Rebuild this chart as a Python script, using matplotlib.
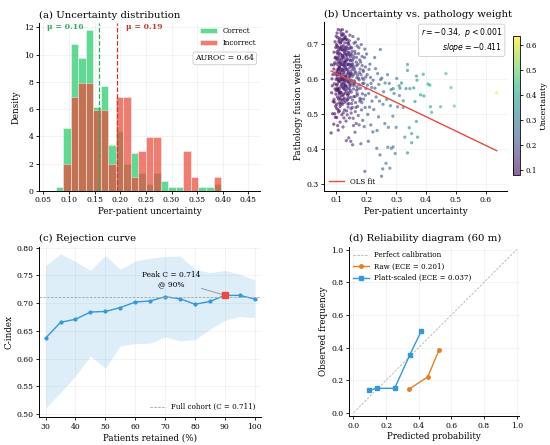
import numpy as np
import matplotlib
matplotlib.use("Agg")
import matplotlib.pyplot as plt

# ---------------- data ----------------
# (a) histogram densities per bin (22 bins from 0.0745 to 0.3966)
hist_lo, hist_hi, hist_n = 0.0745, 0.3966, 22
dens_correct = [0.27, 4.6, 10.8, 9.75, 11.8, 6.15, 7.7, 3.33, 4.4, 2.0, 2.8,
                1.3, 0.5, 1.3, 0.75, 0.27, 0.27, 0.0, 0.0, 0.27, 0.27, 0.5]
dens_incorrect = [0.0, 2.0, 6.9, 7.9, 7.9, 5.9, 5.9, 2.0, 6.9, 6.9, 1.0,
                  2.94, 3.97, 3.97, 0.0, 0.0, 0.0, 2.94, 1.0, 0.0, 0.0, 1.0]
mean_correct = 0.159
mean_incorrect = 0.194
auroc = 0.64

# (b) scatter points (uncertainty, pathology fusion weight)
scatter_pts = [
    (0.082,0.445),(0.084,0.56),(0.086,0.58),(0.088,0.612),(0.083,0.64),(0.087,0.50),(0.089,0.535),(0.085,0.60),
    (0.091,0.47),(0.094,0.50),(0.097,0.522),(0.092,0.541),(0.098,0.556),(0.095,0.571),(0.093,0.586),(0.099,0.598),
    (0.096,0.617),(0.091,0.628),(0.094,0.646),(0.098,0.662),(0.092,0.676),(0.097,0.69),(0.095,0.706),(0.099,0.722),
    (0.093,0.533),(0.096,0.49),(0.099,0.566),(0.091,0.64),(0.095,0.66),(0.098,0.612),
    (0.101,0.655),(0.107,0.592),(0.104,0.718),(0.109,0.531),(0.102,0.603),(0.106,0.681),(0.103,0.548),(0.108,0.637),
    (0.105,0.574),(0.100,0.698),(0.104,0.466),(0.109,0.612),(0.101,0.527),(0.106,0.741),(0.103,0.659),(0.108,0.563),
    (0.102,0.625),(0.107,0.505),(0.105,0.689),(0.100,0.582),(0.106,0.648),(0.101,0.489),(0.108,0.706),(0.103,0.617),
    (0.109,0.556),(0.104,0.672),(0.107,0.542),(0.102,0.731),(0.105,0.598),(0.100,0.516),(0.108,0.664),(0.103,0.585),
    (0.106,0.453),(0.101,0.642),(0.109,0.711),(0.104,0.569),(0.107,0.628),(0.102,0.677),(0.105,0.512),(0.109,0.595),
    (0.113,0.702),(0.118,0.588),(0.111,0.645),(0.116,0.532),(0.119,0.667),(0.114,0.611),(0.112,0.559),(0.117,0.724),
    (0.115,0.578),(0.110,0.634),(0.118,0.497),(0.113,0.683),(0.116,0.619),(0.111,0.546),(0.119,0.598),(0.114,0.739),
    (0.117,0.655),(0.112,0.521),(0.115,0.692),(0.110,0.571),(0.116,0.604),(0.111,0.716),(0.119,0.539),(0.113,0.648),
    (0.118,0.627),(0.112,0.476),(0.117,0.583),(0.114,0.671),(0.110,0.508),(0.115,0.641),(0.119,0.709),(0.113,0.562),
    (0.116,0.688),(0.111,0.593),(0.118,0.661),(0.114,0.527),(0.112,0.631),(0.117,0.551),(0.115,0.731),(0.110,0.615),
    (0.122,0.612),(0.127,0.674),(0.121,0.553),(0.128,0.703),(0.124,0.586),(0.126,0.641),(0.120,0.527),(0.129,0.596),
    (0.123,0.729),(0.125,0.659),(0.127,0.511),(0.122,0.684),(0.128,0.569),(0.121,0.625),(0.126,0.545),(0.124,0.714),
    (0.129,0.651),(0.120,0.603),(0.125,0.488),(0.123,0.578),(0.128,0.637),(0.122,0.695),(0.126,0.532),(0.121,0.667),
    (0.127,0.589),(0.124,0.629),(0.129,0.559),(0.120,0.741),(0.125,0.617),(0.123,0.503),(0.126,0.679),(0.121,0.574),
    (0.128,0.722),(0.124,0.541),(0.127,0.646),(0.122,0.462),(0.129,0.608),(0.125,0.691),(0.123,0.663),(0.126,0.595),
    (0.131,0.633),(0.136,0.571),(0.134,0.692),(0.138,0.528),(0.132,0.606),(0.137,0.655),(0.135,0.542),(0.130,0.718),
    (0.139,0.589),(0.133,0.667),(0.136,0.497),(0.131,0.581),(0.138,0.624),(0.134,0.735),(0.137,0.556),(0.132,0.681),
    (0.135,0.612),(0.139,0.519),(0.130,0.648),(0.133,0.564),(0.137,0.703),(0.131,0.536),(0.136,0.641),(0.134,0.598),
    (0.138,0.674),(0.132,0.479),(0.135,0.659),(0.139,0.617),(0.130,0.577),(0.136,0.712),(0.133,0.423),(0.137,0.593),
    (0.131,0.689),(0.134,0.508),(0.138,0.552),(0.132,0.628),
    (0.142,0.601),(0.147,0.663),(0.141,0.545),(0.148,0.622),(0.144,0.687),(0.146,0.568),(0.140,0.641),(0.149,0.514),
    (0.143,0.709),(0.145,0.583),(0.147,0.652),(0.142,0.529),(0.148,0.594),(0.141,0.676),(0.146,0.612),(0.144,0.488),
    (0.149,0.638),(0.140,0.557),(0.145,0.725),(0.143,0.606),(0.146,0.671),(0.141,0.431),(0.148,0.547),(0.144,0.632),
    (0.147,0.586),(0.142,0.698),(0.149,0.502),(0.140,0.617),(0.145,0.654),(0.143,0.562),(0.148,0.421),(0.146,0.579),
    (0.152,0.634),(0.157,0.571),(0.151,0.688),(0.158,0.612),(0.154,0.539),(0.156,0.657),(0.150,0.596),(0.159,0.702),
    (0.153,0.518),(0.155,0.627),(0.157,0.581),(0.152,0.669),(0.158,0.549),(0.151,0.615),(0.156,0.487),(0.154,0.643),
    (0.159,0.594),(0.150,0.562),(0.155,0.721),(0.153,0.607),(0.157,0.466),(0.152,0.678),(0.158,0.636),(0.151,0.529),
    (0.156,0.588),(0.154,0.411),
    (0.162,0.621),(0.167,0.567),(0.161,0.679),(0.168,0.603),(0.164,0.532),(0.166,0.648),(0.160,0.585),(0.169,0.694),
    (0.163,0.506),(0.165,0.617),(0.167,0.661),(0.162,0.549),(0.168,0.638),(0.161,0.591),(0.166,0.472),(0.164,0.705),
    (0.169,0.558),(0.160,0.629),(0.165,0.518),(0.163,0.672),(0.168,0.578),(0.162,0.447),
    (0.172,0.642),(0.177,0.583),(0.171,0.611),(0.178,0.536),(0.174,0.672),(0.176,0.597),(0.170,0.553),(0.179,0.628),
    (0.173,0.495),(0.175,0.689),(0.177,0.618),(0.172,0.571),(0.178,0.654),(0.171,0.521),(0.176,0.468),(0.174,0.602),
    (0.179,0.544),(0.173,0.714),
    (0.182,0.612),(0.187,0.557),(0.181,0.648),(0.188,0.587),(0.184,0.511),(0.186,0.664),(0.180,0.573),(0.189,0.625),
    (0.183,0.698),(0.185,0.532),(0.187,0.602),(0.182,0.414),(0.188,0.481),(0.181,0.541),(0.186,0.638),
    (0.192,0.587),(0.197,0.634),(0.191,0.542),(0.198,0.605),(0.194,0.661),(0.196,0.518),(0.190,0.621),(0.199,0.572),
    (0.193,0.463),(0.195,0.685),(0.197,0.553),(0.191,0.598),(0.195,0.335),
    (0.203,0.612),(0.208,0.558),(0.212,0.642),(0.216,0.587),(0.205,0.498),(0.219,0.536),(0.201,0.671),(0.214,0.604),
    (0.207,0.421),(0.218,0.575),(0.211,0.519),(0.204,0.582),(0.215,0.468),(0.209,0.627),
    (0.223,0.596),(0.228,0.661),(0.233,0.548),(0.238,0.615),(0.242,0.584),(0.247,0.684),(0.225,0.512),(0.236,0.452),
    (0.244,0.536),(0.229,0.573),(0.248,0.598),(0.231,0.629),(0.241,0.491),(0.235,0.401),(0.246,0.382),(0.222,0.448),
    (0.252,0.602),(0.258,0.563),(0.263,0.588),(0.271,0.612),(0.277,0.587),(0.283,0.569),(0.256,0.527),(0.268,0.541),
    (0.281,0.523),(0.293,0.558),(0.262,0.472),(0.274,0.461),(0.289,0.493),(0.255,0.342),(0.266,0.358),(0.272,0.404),
    (0.284,0.401),(0.297,0.386),(0.251,0.321),(0.279,0.344),
    (0.338,0.641),(0.338,0.624),(0.368,0.608),(0.370,0.596),(0.391,0.613),(0.467,0.615),(0.407,0.585),(0.413,0.582),
    (0.333,0.572),(0.346,0.572),(0.359,0.574),(0.484,0.575),(0.382,0.554),(0.393,0.551),(0.324,0.537),(0.363,0.535),
    (0.415,0.520),(0.449,0.520),(0.495,0.522),(0.419,0.504),(0.368,0.478),(0.344,0.460),(0.352,0.443),(0.329,0.433),
    (0.372,0.433),(0.352,0.417),(0.338,0.388),(0.318,0.588),(0.310,0.580),(0.324,0.518),(0.300,0.461),(0.290,0.405),
    (0.305,0.520),(0.311,0.552),(0.302,0.601),(0.313,0.573),(0.290,0.572),
    (0.104,0.611),(0.112,0.688),(0.118,0.641),(0.121,0.597),(0.127,0.715),(0.133,0.652),(0.106,0.566),(0.114,0.623),
    (0.125,0.571),(0.131,0.604),(0.138,0.686),(0.143,0.642),(0.109,0.673),(0.116,0.561),(0.122,0.648),(0.128,0.581),
    (0.135,0.627),(0.141,0.592),(0.147,0.615),(0.103,0.694),(0.111,0.602),(0.119,0.713),(0.124,0.556),(0.130,0.671),
    (0.137,0.539),(0.144,0.668),(0.150,0.641),(0.107,0.629),(0.113,0.541),(0.120,0.682),(0.126,0.622),(0.132,0.713),
    (0.139,0.642),(0.145,0.609),(0.101,0.571),(0.117,0.598),(0.123,0.638),(0.129,0.684),(0.134,0.578),(0.140,0.702),
    (0.110,0.655),(0.115,0.705),(0.105,0.622),(0.121,0.726),(0.127,0.603),(0.136,0.668),(0.142,0.573),(0.148,0.691),
    (0.153,0.652),(0.158,0.663),
    (0.637,0.560),
]
ols_slope = -0.411
ols_intercept = 0.656
corr_r = -0.34

# (c) rejection curve
retained = [30, 35, 40, 45, 50, 55, 60, 65, 70, 75, 80, 85, 90, 95, 100]
cindex = [0.637, 0.6655, 0.671, 0.684, 0.685, 0.692, 0.702, 0.704, 0.7115,
          0.708, 0.698, 0.703, 0.714, 0.714, 0.7075]
ci_upper = [0.768, 0.789, 0.775, 0.759, 0.786, 0.761, 0.776, 0.781, 0.784,
            0.785, 0.761, 0.755, 0.759, 0.752, 0.742]
ci_lower = [0.511, 0.539, 0.569, 0.605, 0.583, 0.623, 0.627, 0.628, 0.639,
            0.632, 0.634, 0.653, 0.669, 0.676, 0.674]
full_cohort_c = 0.711
peak_pct, peak_c = 90, 0.714

# (d) reliability diagram
raw_pred = [0.34, 0.455, 0.525]
raw_obs = [0.145, 0.22, 0.387]
platt_pred = [0.093, 0.143, 0.252, 0.345, 0.415]
platt_obs = [0.137, 0.150, 0.150, 0.355, 0.500]
ece_raw, ece_platt = 0.201, 0.037

# ---------------- style ----------------
plt.rcParams.update({
    "font.family": "DejaVu Serif",
    "mathtext.fontset": "dejavusans",
    "axes.linewidth": 0.7,
    "xtick.major.width": 0.6, "ytick.major.width": 0.6,
    "xtick.major.size": 2.5, "ytick.major.size": 2.5,
    "xtick.major.pad": 1.5, "ytick.major.pad": 1.5,
    "xtick.labelsize": 5.5, "ytick.labelsize": 5.5,
    "axes.labelsize": 6.3, "axes.titlesize": 7.3,
    "legend.fontsize": 5.1,
    "axes.labelpad": 2.0,
})

GREEN = "#2ecc71"
RED = "#e74c3c"
BLUE = "#3498db"
ORANGE = "#e67e22"

fig = plt.figure(figsize=(5.5, 4.45), dpi=100)
ax_a = fig.add_axes([0.071, 0.571, 0.402, 0.377])
ax_b = fig.add_axes([0.589, 0.571, 0.333, 0.379])
cax = fig.add_axes([0.933, 0.607, 0.013, 0.312])
ax_c = fig.add_axes([0.071, 0.063, 0.404, 0.383])
ax_d = fig.add_axes([0.633, 0.065, 0.312, 0.380])

def style(ax):
    for s in ("top", "right"):
        ax.spines[s].set_visible(False)
    ax.grid(True, color="#dddddd", lw=0.4, alpha=0.6)
    ax.set_axisbelow(True)

# ---------------- (a) ----------------
style(ax_a)
edges = np.linspace(hist_lo, hist_hi, hist_n + 1)
widths = np.diff(edges)
ax_a.bar(edges[:-1], dens_correct, width=widths, align="edge", color=GREEN,
         alpha=0.75, edgecolor="white", linewidth=0.4, label="Correct")
ax_a.bar(edges[:-1], dens_incorrect, width=widths, align="edge", color=RED,
         alpha=0.72, edgecolor="white", linewidth=0.4, label="Incorrect")
ax_a.axvline(mean_correct, color="#27ae60", ls="--", lw=0.9)
ax_a.axvline(mean_incorrect, color="#c0392b", ls="--", lw=0.9)
ax_a.text(0.128, 12.0, f"μ = {mean_correct:.2f}", color="#27ae60",
          fontsize=5.6, fontweight="bold", ha="right", va="center")
ax_a.text(0.2115, 12.0, f"μ = {mean_incorrect:.2f}", color="#c0392b",
          fontsize=5.6, fontweight="bold", ha="left", va="center")
ax_a.set_xlim(0.0415, 0.473)
ax_a.set_ylim(0, 12.3)
ax_a.set_xticks(np.arange(0.05, 0.451, 0.05))
ax_a.set_yticks(np.arange(0, 12.1, 2))
ax_a.set_xlabel("Per-patient uncertainty")
ax_a.set_ylabel("Density")
ax_a.set_title("(a) Uncertainty distribution", loc="left", pad=4)
ax_a.legend(loc="upper right", frameon=False, handlelength=2.4,
            borderaxespad=0.2, bbox_to_anchor=(1.0, 1.0))
ax_a.text(0.84, 0.79, f"AUROC = {auroc:.2f}", transform=ax_a.transAxes,
          ha="center", va="center", fontsize=5.6,
          bbox=dict(boxstyle="round,pad=0.3", fc="white", ec="#cccccc", lw=0.6))

# ---------------- (b) ----------------
style(ax_b)
unc = np.array([p[0] for p in scatter_pts])
wgt = np.array([p[1] for p in scatter_pts])
sc = ax_b.scatter(unc, wgt, c=unc, cmap="viridis", s=5.5, alpha=0.6,
                  linewidths=0, vmin=unc.min(), vmax=unc.max())
xs = np.array([unc.min(), unc.max()])
ax_b.plot(xs, ols_intercept + ols_slope * xs, color=RED, lw=1.0, label="OLS fit")
ax_b.set_xlim(0.058, 0.672)
ax_b.set_ylim(0.279, 0.762)
ax_b.set_xticks([0.1, 0.2, 0.3, 0.4, 0.5, 0.6])
ax_b.set_yticks([0.3, 0.4, 0.5, 0.6, 0.7])
ax_b.set_xlabel("Per-patient uncertainty")
ax_b.set_ylabel("Pathology fusion weight")
ax_b.set_title("(b) Uncertainty vs. pathology weight", loc="left", pad=4)
ax_b.legend(loc="lower left", frameon=False, handlelength=2.2, borderaxespad=0.3)
ax_b.text(0.975, 0.975,
          f"$r = {corr_r:.2f}$,  $p < 0.001$\n$slope = {ols_slope:.3f}$",
          transform=ax_b.transAxes, ha="right", va="top", fontsize=5.6,
          multialignment="right",
          bbox=dict(boxstyle="round,pad=0.3", fc="white", ec="#cccccc", lw=0.6))
cb = fig.colorbar(sc, cax=cax)
cb.set_label("Uncertainty", fontsize=5.8, labelpad=2)
cb.ax.tick_params(labelsize=5.1, length=2, pad=1.5)
cb.set_ticks([0.1, 0.2, 0.3, 0.4, 0.5, 0.6])
cb.outline.set_linewidth(0.6)

# ---------------- (c) ----------------
style(ax_c)
ax_c.fill_between(retained, ci_lower, ci_upper, color=BLUE, alpha=0.16, lw=0)
ax_c.plot(retained, cindex, color=BLUE, lw=1.0, marker="o", ms=2.0)
ax_c.axhline(full_cohort_c, color="#aaaaaa", ls=(0, (2.5, 1.5)), lw=0.7,
             label=f"Full cohort (C = {full_cohort_c:.3f})")
ax_c.plot([peak_pct], [peak_c], marker="s", ms=4.5, color=RED, zorder=5)
ax_c.text(72, 0.742, f"Peak C = {peak_c:.3f}\n@ {peak_pct}%", ha="center",
          va="center", fontsize=5.4)
ax_c.annotate("", xy=(peak_pct - 0.8, peak_c + 0.0015), xytext=(82.2, 0.7265),
              arrowprops=dict(arrowstyle="-", color="#999999", lw=0.7,
                              shrinkA=0, shrinkB=0))
ax_c.set_xlim(27.8, 102.2)
ax_c.set_ylim(0.495, 0.802)
ax_c.set_xticks(np.arange(30, 101, 10))
ax_c.set_yticks(np.arange(0.50, 0.801, 0.05))
ax_c.set_xlabel("Patients retained (%)")
ax_c.set_ylabel("C-index")
ax_c.set_title("(c) Rejection curve", loc="left", pad=4)
ax_c.legend(loc="lower right", frameon=False, handlelength=2.2, borderaxespad=0.4)

# ---------------- (d) ----------------
style(ax_d)
ax_d.plot([0, 1], [0, 1], color="#bbbbbb", ls=(0, (2.5, 1.5)), lw=0.7,
          label="Perfect calibration")
ax_d.plot(raw_pred, raw_obs, color=ORANGE, marker="o", ms=2.5, lw=1.0,
          label=f"Raw (ECE = {ece_raw:.3f})")
ax_d.plot(platt_pred, platt_obs, color=BLUE, marker="s", ms=3.0, lw=1.0,
          label=f"Platt-scaled (ECE = {ece_platt:.3f})")
ax_d.set_xlim(-0.028, 1.014)
ax_d.set_ylim(-0.02, 1.016)
ax_d.set_aspect("equal")
ax_d.set_xticks(np.arange(0, 1.01, 0.2))
ax_d.set_yticks(np.arange(0, 1.01, 0.2))
ax_d.set_xlabel("Predicted probability")
ax_d.set_ylabel("Observed frequency")
ax_d.set_title("(d) Reliability diagram (60 m)", loc="left", pad=4)
ax_d.legend(loc="upper left", frameon=False, handlelength=2.2, borderaxespad=0.2)

fig.savefig("out.png", dpi=100)
